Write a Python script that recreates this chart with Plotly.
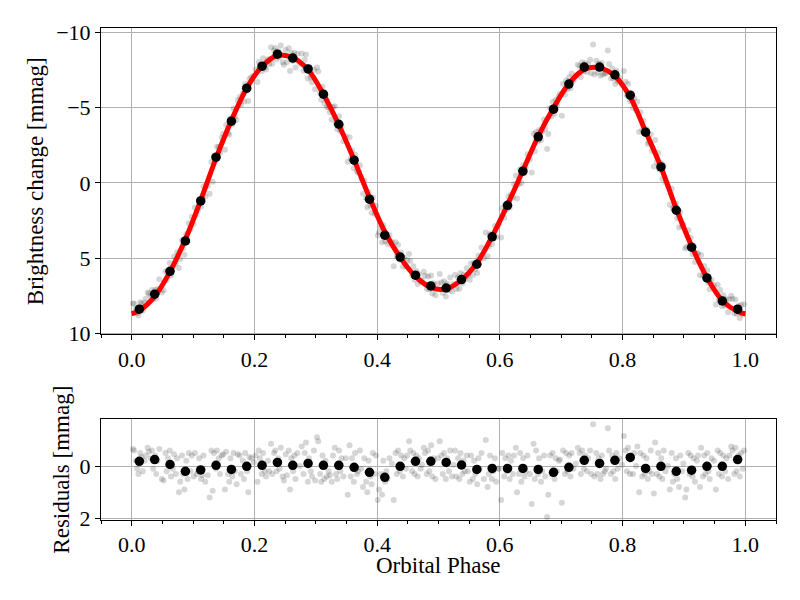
import numpy as np
import plotly.graph_objects as go

# ---------------- data ----------------
model_phase = [0.0, 0.0125, 0.0375, 0.0625, 0.0875, 0.1125, 0.1375, 0.1625, 0.1875, 0.2125,
               0.2375, 0.2625, 0.2875, 0.3125, 0.3375, 0.3625, 0.3875, 0.4125, 0.4375, 0.4625,
               0.4875, 0.5125, 0.5375, 0.5625, 0.5875, 0.6125, 0.6375, 0.6625, 0.6875, 0.7125,
               0.7375, 0.7625, 0.7875, 0.8125, 0.8375, 0.8625, 0.8875, 0.9125, 0.9375, 0.9625,
               0.9875, 1.0]
model_mag = [8.7, 8.5, 7.55, 5.9, 3.75, 1.15, -1.65, -4.15, -6.3, -7.75,
             -8.47, -8.32, -7.52, -5.9, -3.87, -1.53, 0.97, 3.25, 4.95, 6.22,
             6.95, 7.05, 6.45, 5.33, 3.55, 1.45, -0.82, -3.1, -5.0, -6.6,
             -7.55, -7.65, -7.1, -5.7, -3.42, -1.06, 1.72, 4.2, 6.3, 7.83,
             8.55, 8.7]

bin_phase = [0.0125, 0.0375, 0.0625, 0.0875, 0.1125, 0.1375, 0.1625, 0.1875, 0.2125, 0.2375,
             0.2625, 0.2875, 0.3125, 0.3375, 0.3625, 0.3875, 0.4125, 0.4375, 0.4625, 0.4875,
             0.5125, 0.5375, 0.5625, 0.5875, 0.6125, 0.6375, 0.6625, 0.6875, 0.7125, 0.7375,
             0.7625, 0.7875, 0.8125, 0.8375, 0.8625, 0.8875, 0.9125, 0.9375, 0.9625, 0.9875]
bin_mag = [8.4, 7.4, 5.88, 3.86, 1.2, -1.71, -4.1, -6.3, -7.76, -8.56,
           -8.3, -7.58, -5.9, -3.9, -1.51, 1.08, 3.48, 4.93, 6.14, 6.85,
           6.99, 6.43, 5.41, 3.59, 1.49, -0.78, -3.06, -4.9, -6.57, -7.7,
           -7.7, -7.19, -5.83, -3.37, -1.06, 1.82, 4.28, 6.32, 7.85, 8.4]
bin_resid = [-0.18, -0.25, -0.06, 0.2, 0.15, -0.03, 0.13, 0.01, -0.03, -0.14,
             -0.03, -0.1, -0.03, -0.03, 0.05, 0.24, 0.43, 0.01, -0.18, -0.18,
             -0.14, -0.04, 0.13, 0.09, 0.09, 0.09, 0.13, 0.24, 0.05, -0.22,
             -0.1, -0.22, -0.33, 0.09, 0.01, 0.2, 0.16, 0.01, 0.01, -0.25]

raw_phase = [
    0.002, 0.004, 0.007, 0.009, 0.011, 0.014, 0.016, 0.018, 0.021, 0.023,
    0.026, 0.028, 0.031, 0.033, 0.035, 0.038, 0.040, 0.042, 0.045, 0.049,
    0.052, 0.055, 0.057, 0.059, 0.062, 0.064, 0.067, 0.069, 0.072, 0.074,
    0.077, 0.079, 0.082, 0.084, 0.086, 0.089, 0.091, 0.093, 0.096, 0.098,
    0.101, 0.103, 0.106, 0.108, 0.110, 0.113, 0.115, 0.117, 0.120, 0.124,
    0.127, 0.130, 0.132, 0.134, 0.137, 0.139, 0.142, 0.144, 0.147, 0.149,
    0.152, 0.154, 0.157, 0.159, 0.161, 0.164, 0.166, 0.168, 0.171, 0.173,
    0.176, 0.178, 0.181, 0.183, 0.185, 0.188, 0.190, 0.192, 0.195, 0.199,
    0.202, 0.205, 0.207, 0.209, 0.212, 0.214, 0.217, 0.219, 0.222, 0.224,
    0.227, 0.229, 0.232, 0.234, 0.236, 0.239, 0.241, 0.243, 0.246, 0.248,
    0.251, 0.253, 0.256, 0.258, 0.260, 0.263, 0.265, 0.267, 0.270, 0.274,
    0.277, 0.280, 0.282, 0.284, 0.287, 0.289, 0.292, 0.294, 0.297, 0.299,
    0.302, 0.304, 0.307, 0.309, 0.311, 0.314, 0.316, 0.318, 0.321, 0.323,
    0.326, 0.328, 0.331, 0.333, 0.335, 0.338, 0.340, 0.342, 0.345, 0.349,
    0.352, 0.355, 0.357, 0.359, 0.362, 0.364, 0.367, 0.369, 0.372, 0.374,
    0.377, 0.379, 0.382, 0.384, 0.386, 0.389, 0.391, 0.393, 0.396, 0.398,
    0.401, 0.403, 0.406, 0.408, 0.410, 0.413, 0.415, 0.417, 0.420, 0.424,
    0.427, 0.430, 0.432, 0.434, 0.437, 0.439, 0.442, 0.444, 0.447, 0.449,
    0.452, 0.454, 0.457, 0.459, 0.461, 0.464, 0.466, 0.468, 0.471, 0.473,
    0.476, 0.478, 0.481, 0.483, 0.485, 0.488, 0.490, 0.492, 0.495, 0.499,
    0.502, 0.505, 0.507, 0.509, 0.512, 0.514, 0.517, 0.519, 0.522, 0.524,
    0.527, 0.529, 0.532, 0.534, 0.536, 0.539, 0.541, 0.543, 0.546, 0.548,
    0.551, 0.553, 0.556, 0.558, 0.560, 0.563, 0.565, 0.567, 0.570, 0.574,
    0.577, 0.580, 0.582, 0.584, 0.587, 0.589, 0.592, 0.594, 0.597, 0.599,
    0.602, 0.604, 0.607, 0.609, 0.611, 0.614, 0.616, 0.618, 0.621, 0.623,
    0.626, 0.628, 0.631, 0.633, 0.635, 0.638, 0.640, 0.642, 0.645, 0.649,
    0.652, 0.655, 0.657, 0.659, 0.662, 0.664, 0.667, 0.669, 0.672, 0.674,
    0.677, 0.679, 0.682, 0.684, 0.686, 0.689, 0.691, 0.693, 0.696, 0.698,
    0.701, 0.703, 0.706, 0.708, 0.710, 0.713, 0.715, 0.717, 0.720, 0.724,
    0.727, 0.730, 0.732, 0.734, 0.737, 0.739, 0.742, 0.744, 0.747, 0.749,
    0.752, 0.754, 0.757, 0.759, 0.761, 0.764, 0.766, 0.768, 0.771, 0.773,
    0.776, 0.778, 0.781, 0.783, 0.785, 0.788, 0.790, 0.792, 0.795, 0.799,
    0.802, 0.805, 0.807, 0.809, 0.812, 0.814, 0.817, 0.819, 0.822, 0.824,
    0.827, 0.829, 0.832, 0.834, 0.836, 0.839, 0.841, 0.843, 0.846, 0.848,
    0.851, 0.853, 0.856, 0.858, 0.860, 0.863, 0.865, 0.867, 0.870, 0.874,
    0.877, 0.880, 0.882, 0.884, 0.887, 0.889, 0.892, 0.894, 0.897, 0.899,
    0.902, 0.904, 0.907, 0.909, 0.911, 0.914, 0.916, 0.918, 0.921, 0.923,
    0.926, 0.928, 0.931, 0.933, 0.935, 0.938, 0.940, 0.942, 0.945, 0.949,
    0.952, 0.955, 0.957, 0.959, 0.962, 0.964, 0.967, 0.969, 0.972, 0.974,
    0.977, 0.979, 0.982, 0.984, 0.986, 0.989, 0.991, 0.993, 0.996, 0.998,
]
raw_resid = [
    -0.65, -0.6, -0.2, 0.1, 0.3, -0.5, -0.35, 0.2, -0.2, -0.4,
    -0.7, -0.55, -0.3, -0.6, 0.1, -0.4, 0.3, -0.2, -0.65, 0.5,
    0.55, -0.5, 0.2, -0.3, -0.6, 0.4, 0.1, -0.45, 0.3, -0.3,
    1.0, 0.6, -0.4, 0.3, 0.9, -0.2, 0.5, -0.5, 0.2, -0.4,
    0.4, -0.5, 0.3, 0.2, -0.3, 0.5, 0.35, -0.4, 0.6, 0.35,
    1.2, -0.6, 0.95, -0.5, 0.1, -0.6, -0.3, 0.3, -0.4, -0.45,
    0.9, -0.55, 0.3, 0.6, -0.3, 0.4, -0.5, 0.2, 0.7, -0.45,
    -0.4, 0.3, -0.2, 0.5, -0.5, 0.2, 1.0, -0.35, -0.3, -0.15,
    -0.4, 0.6, -0.6, -0.3, 0.3, -0.5, 0.2, 0.4, -0.2, 0.2,
    -0.85, 0.3, -0.5, -0.6, 0.2, -0.3, 0.1, -0.7, 0.4, 0.55,
    -0.45, 0.35, -0.6, 0.9, -0.3, 0.2, -0.4, 0.5, -0.5, 0.0,
    -0.75, 0.3, -0.5, -0.9, 0.6, -0.3, 0.2, 0.4, -0.6, 0.55,
    -1.1, -0.95, 0.3, 0.6, -0.4, 0.5, -0.2, 0.4, 0.2, 0.35,
    0.6, -0.4, -0.7, 0.3, 0.5, -0.6, 0.2, -0.3, 0.4, -0.3,
    1.1, -0.8, 0.4, -0.3, 0.6, -0.5, 0.3, 0.2, -0.6, 0.1,
    0.8, -0.3, 0.6, 1.0, -0.2, 0.4, 0.7, -0.5, 0.3, -0.4,
    1.3, 0.9, 0.3, 1.1, -0.2, 0.6, 0.2, 0.5, -0.3, -0.1,
    1.3, -0.5, 0.3, -0.6, 0.2, -0.4, 0.4, -0.3, 0.1, -0.4,
    -0.95, -0.6, 0.2, -0.5, 0.3, -0.4, 0.4, -0.3, 0.1, -0.05,
    -0.7, -0.5, 0.3, -0.6, 0.2, -0.8, 0.4, -0.3, 0.5, -0.3,
    -0.95, -0.4, 0.3, -0.5, 0.5, -0.3, 0.2, -0.6, 0.4, -0.05,
    -0.6, 0.4, -0.3, 0.5, -0.5, 0.3, -0.2, 0.2, -0.4, 0.2,
    0.6, -0.4, 0.5, -0.2, 0.3, 0.7, -0.3, 0.1, -0.5, 0.5,
    -1.0, 0.8, 0.3, -0.4, 0.5, 0.2, -0.3, 0.6, 0.1, 0.1,
    1.3, -0.5, 0.4, -0.3, 0.2, -0.4, 0.5, -0.2, 0.3, -0.4,
    -0.7, 1.0, 0.3, -0.5, 0.6, -0.3, 0.4, 0.2, -0.4, 0.3,
    1.45, -0.85, 0.5, -0.6, 0.3, -0.3, 0.6, 0.2, -0.4, 0.4,
    1.95, 1.1, -0.4, 0.3, -0.5, 0.5, -0.3, 0.2, -0.2, -0.25,
    1.4, -0.6, 0.3, -0.5, 0.2, -0.4, 0.4, -0.5, 0.1, -0.1,
    -0.7, -0.5, 0.3, -0.6, 0.1, -0.4, 0.2, -0.3, -0.6, 0.3,
    -1.6, 0.4, -0.5, 0.3, -0.3, 0.5, -0.4, 0.3, 0.2, 0.1,
    -1.45, -0.6, 0.3, -0.4, 0.2, 0.5, -0.5, 0.1, -0.3, -0.05,
    -1.15, -0.6, 0.2, -0.7, 0.3, -0.4, 0.3, -0.5, 0.0, -0.75,
    1.0, -0.5, 0.4, -0.4, 0.3, -0.3, 0.5, 0.2, -0.6, 0.3,
    1.05, -0.9, 0.3, -0.5, 0.4, -0.3, 0.5, -0.6, 0.2, 0.0,
    0.9, -0.5, 0.6, 0.3, -0.3, 0.5, 0.8, -0.4, 0.2, -0.1,
    1.2, 0.9, -0.5, 0.3, -0.4, 0.4, -0.3, 0.6, -0.2, -0.4,
    0.8, -0.7, 0.4, -0.4, 0.3, -0.5, 0.2, 0.5, -0.3, -0.2,
    0.9, -0.6, 0.3, -0.5, 0.4, -0.4, 0.2, -0.3, 0.5, -0.4,
    -0.75, -0.6, 0.3, -0.7, 0.2, -0.4, 0.4, -0.5, 0.1, -0.6,
]

x_ticks = [0.0, 0.2, 0.4, 0.6, 0.8, 1.0]
x_ticklabels = ["0.0", "0.2", "0.4", "0.6", "0.8", "1.0"]

# raw data = model + residual
raw_mag = np.interp(raw_phase, model_phase, model_mag) + np.array(raw_resid)

FONT = "Liberation Serif"
grey = "rgba(0,0,0,0.16)"

fig = go.Figure()
fig.add_trace(go.Scatter(x=raw_phase, y=raw_mag, mode="markers",
                         marker=dict(color=grey, size=6), xaxis="x", yaxis="y",
                         showlegend=False, hoverinfo="skip"))
fig.add_trace(go.Scatter(x=model_phase, y=model_mag, mode="lines",
                         line=dict(color="red", width=5, shape="spline"),
                         xaxis="x", yaxis="y", showlegend=False))
fig.add_trace(go.Scatter(x=bin_phase, y=bin_mag, mode="markers",
                         marker=dict(color="black", size=9.5), xaxis="x", yaxis="y",
                         showlegend=False))
fig.add_trace(go.Scatter(x=raw_phase, y=raw_resid, mode="markers",
                         marker=dict(color=grey, size=6), xaxis="x2", yaxis="y2",
                         showlegend=False, hoverinfo="skip"))
fig.add_trace(go.Scatter(x=bin_phase, y=bin_resid, mode="markers",
                         marker=dict(color="black", size=9.5), xaxis="x2", yaxis="y2",
                         showlegend=False))

axis_common = dict(showline=True, mirror=True, linecolor="black", linewidth=1,
                   showgrid=True, gridcolor="#b0b0b0", gridwidth=1,
                   ticks="outside", ticklen=5, tickcolor="black", tickwidth=1,
                   zeroline=False, tickfont=dict(family=FONT, size=22, color="black"))
xminor = dict(ticks="outside", ticklen=3, tickcolor="black", dtick=0.05, tick0=0,
              showgrid=False)

TOP_DOMAIN = [0.3774, 1]
BOT_DOMAIN = [0, 0.2047]
title_font = dict(family=FONT, size=23, color="black")

# page body adds an 8px offset; margins compensate so the plot lands where the reference has it
fig.update_layout(
    width=800, height=600,
    margin=dict(l=93, r=32, t=20, b=88),
    plot_bgcolor="white", paper_bgcolor="white",
    font=dict(family=FONT, size=22, color="black"),
    xaxis=dict(domain=[0, 1], anchor="y", range=[-0.05, 1.05],
               tickvals=x_ticks, ticktext=x_ticklabels, minor=xminor, **axis_common),
    yaxis=dict(domain=TOP_DOMAIN, anchor="x", range=[10.07, -10.3],
               tickvals=[-10, -5, 0, 5, 10], **axis_common),
    xaxis2=dict(domain=[0, 1], anchor="y2", range=[-0.05, 1.05],
                tickvals=x_ticks, ticktext=x_ticklabels, minor=xminor, **axis_common),
    yaxis2=dict(domain=BOT_DOMAIN, anchor="x2", range=[2.065, -1.79],
                tickvals=[0, 2], **axis_common),
    annotations=[
        dict(text="Brightness change [mmag]", xref="paper", yref="paper",
             x=-0.0978, y=sum(TOP_DOMAIN) / 2, xanchor="center", yanchor="middle",
             textangle=-90, showarrow=False, font=title_font),
        dict(text="Residuals [mmag]", xref="paper", yref="paper",
             x=-0.0578, y=sum(BOT_DOMAIN) / 2, xanchor="center", yanchor="middle",
             textangle=-90, showarrow=False, font=title_font),
        dict(text="Orbital Phase", xref="paper", yref="paper",
             x=0.5, y=-0.0915, xanchor="center", yanchor="middle",
             showarrow=False, font=title_font),
    ],
)

fig.write_html("out.html")
